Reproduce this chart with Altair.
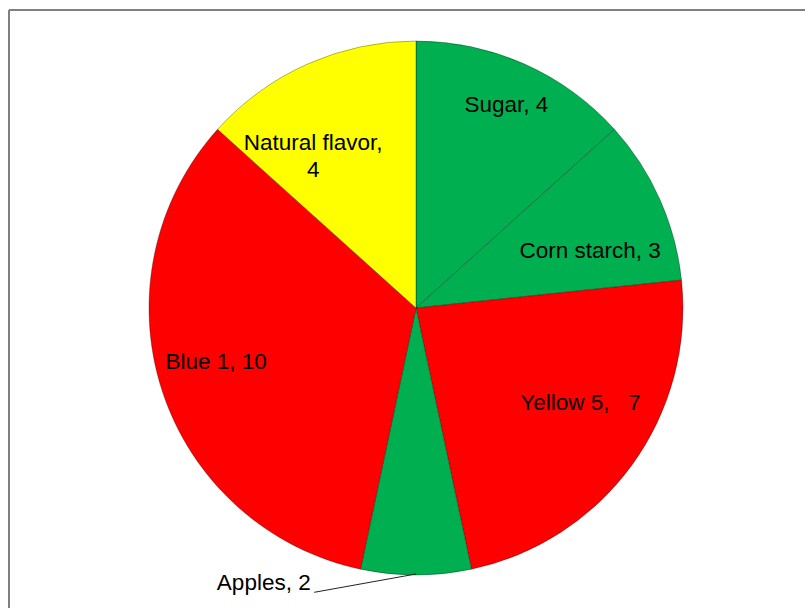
import math

import altair as alt
import pandas as pd

# Ingredients, in clockwise order from 12 o'clock
categories = ["Sugar", "Corn starch", "Yellow 5", "Apples", "Blue 1", "Natural flavor"]
values = [4, 3, 7, 2, 10, 4]
labels = ["Sugar, 4", "Corn starch, 3", "Yellow 5,\u00a0\u00a0 7", "Apples, 2",
          "Blue 1, 10", "Natural flavor,\n4"]
colors = ["#00B050", "#00B050", "#FF0000", "#00B050", "#FF0000", "#FFFF00"]

# Label placement: angular nudge from the slice middle (degrees) and
# distance from the pie centre (px)
label_nudge = [0, 6, -6, 29, 3, -8]
label_radius = [222, 183, 190, 314, 207, 194]

W, H = 796, 598
CX, CY, R = 407, 298, 267  # pie centre and radius inside the view

total = sum(values)
mids, run = [], 0
for v in values:
    mids.append((run + v / 2) / total * 360)
    run += v

df = pd.DataFrame({
    "cat": categories,
    "value": values,
    "label": labels,
    "order": list(range(len(values))),
    "label_deg": [m + n for m, n in zip(mids, label_nudge)],
    "label_r": label_radius,
})

pie = alt.Chart(df).mark_arc(
    stroke="#000000", strokeOpacity=0.3, strokeWidth=1
).encode(
    theta=alt.Theta("value:Q", stack=True),
    order=alt.Order("order:Q"),
    color=alt.Color("cat:N", scale=alt.Scale(domain=categories, range=colors), legend=None),
    x=alt.value(CX),
    y=alt.value(CY),
    radius=alt.value(R),
)

text = alt.Chart(df).mark_text(
    font="Liberation Sans, Arial, sans-serif", fontSize=22.5, color="#000000",
    align="center", baseline="middle", lineBreak="\n", lineHeight=27,
).encode(
    theta=alt.Theta("label_deg:Q", stack=False,
                    scale=alt.Scale(domain=[0, 360], range=[0, 2 * math.pi])),
    radius=alt.Radius("label_r:Q", scale=None),
    text="label:N",
    x=alt.value(CX),
    y=alt.value(CY),
)

# Leader line from the Apples slice edge to its outside label
apple_i = categories.index("Apples")
a0 = math.radians(mids[apple_i])
a1 = math.radians(mids[apple_i] + 19.7)
leader_df = pd.DataFrame({
    "x": [CX + (R - 1) * math.sin(a0)],
    "y": [CY - (R - 1) * math.cos(a0)],
    "x2": [CX + 302 * math.sin(a1)],
    "y2": [CY - 302 * math.cos(a1)],
})
leader = alt.Chart(leader_df).mark_rule(color="#222222", strokeWidth=1).encode(
    x=alt.X("x:Q", scale=None),
    y=alt.Y("y:Q", scale=None),
    x2="x2:Q",
    y2="y2:Q",
)

# Chart-area frame: only its top and left edges fall inside the page
frame_top = alt.Chart(df).mark_rule(color="#808080", strokeWidth=2).encode(
    x=alt.value(0), x2=alt.value(W), y=alt.value(0)
)
frame_left = alt.Chart(df).mark_rule(color="#808080", strokeWidth=2).encode(
    x=alt.value(0), y=alt.value(0), y2=alt.value(H)
)

chart = alt.layer(pie, leader, text, frame_top, frame_left).resolve_scale(
    theta="independent", radius="independent"
).properties(
    width=W,
    height=H,
    autosize=alt.AutoSizeParams(type="none"),
    padding={"left": 9, "top": 10, "right": 0, "bottom": 0},
).configure(
    background="white",
    view=alt.ViewConfig(strokeOpacity=0),
)

chart.save("out.html", embed_options={"renderer": "svg", "actions": False})
